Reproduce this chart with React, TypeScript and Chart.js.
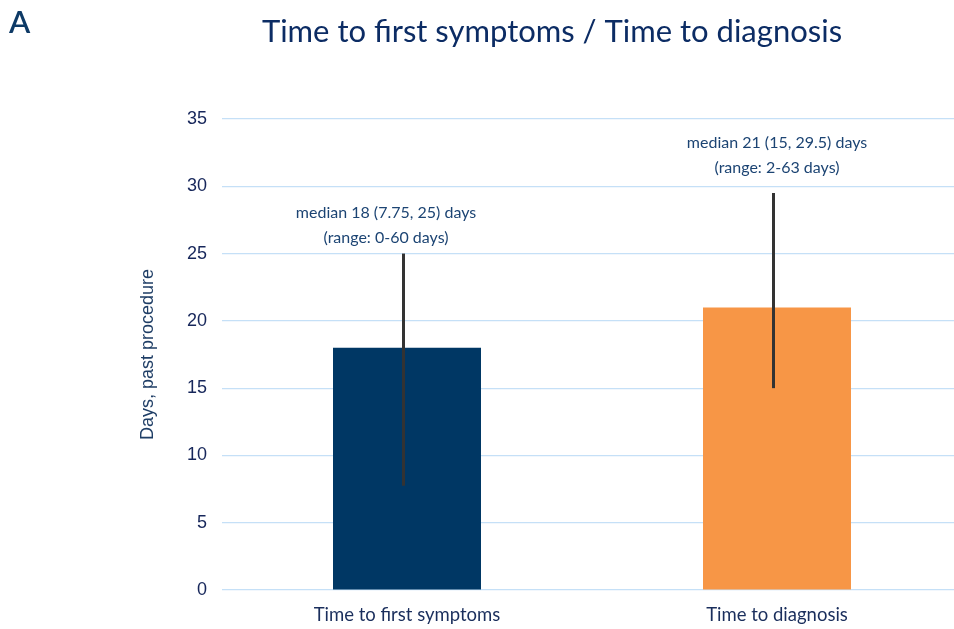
import { useEffect, useRef } from "react";
import { Chart, registerables } from "chart.js";

Chart.register(...registerables);

const categories = ["Time to first symptoms", "Time to diagnosis"];
const medianDays = [18, 21];
const lowerDays = [7.75, 15];
const upperDays = [25, 29.5];
const noteLine1 = ["median 18 (7.75, 25) days", "median 21 (15, 29.5) days"];
const noteLine2 = ["(range: 0-60 days)", "(range: 2-63 days)"];
const barColors = ["#003764", "#F79646"];
const chartTitle = "Time to first symptoms / Time to diagnosis";
const panelLetter = "A";
const yAxisTitle = "Days, past procedure";

// layout constants (positions of the hand-placed notes, in data units / px offsets)
const NOTE_Y = [26.15, 31.35];
const NOTE_DX = [-21, 0];
const WHISKER_DX = -3.5;

const CAL = "Lato, 'Open Sans', sans-serif";
const ARIAL = "'Liberation Sans', Arial, sans-serif";

const overlayPlugin = {
  id: "overlay",
  afterDatasetsDraw(chart: any) {
    const ctx = chart.ctx;
    const xs = chart.scales.x;
    const ys = chart.scales.y;
    ctx.save();
    categories.forEach((_, i) => {
      const x = xs.getPixelForValue(i) + WHISKER_DX;
      ctx.strokeStyle = "#333333";
      ctx.lineWidth = 3;
      ctx.beginPath();
      ctx.moveTo(x, ys.getPixelForValue(lowerDays[i]));
      ctx.lineTo(x, ys.getPixelForValue(upperDays[i]));
      ctx.stroke();

      const nx = xs.getPixelForValue(i) + NOTE_DX[i];
      const ny = ys.getPixelForValue(NOTE_Y[i]);
      ctx.fillStyle = "#1c4473";
      ctx.font = `16px ${CAL}`;
      ctx.textAlign = "center";
      ctx.textBaseline = "middle";
      ctx.fillText(noteLine1[i], nx, ny - 25);
      ctx.fillText(noteLine2[i], nx, ny);
    });
    ctx.restore();
  },
  afterDraw(chart: any) {
    const ctx = chart.ctx;
    ctx.save();
    ctx.fillStyle = "#0c2c64";
    ctx.font = `31px ${CAL}`;
    ctx.textAlign = "center";
    ctx.textBaseline = "middle";
    ctx.fillText(chartTitle, 552, 32);
    ctx.fillStyle = "#0e3a66";
    ctx.font = `600 31px ${CAL}`;
    ctx.textAlign = "left";
    ctx.fillText(panelLetter, 9, 23);
    ctx.restore();
  },
};

export default function App() {
  const ref = useRef<HTMLCanvasElement | null>(null);
  useEffect(() => {
    if (!ref.current) return;
    const chart = new Chart(ref.current, {
      type: "bar",
      data: {
        labels: categories,
        datasets: [
          {
            data: medianDays,
            backgroundColor: barColors,
            borderWidth: 0,
            barPercentage: 0.4,
            categoryPercentage: 1,
          },
        ],
      },
      options: {
        responsive: false,
        animation: false,
        layout: { padding: { top: 119, left: 0, right: 0, bottom: 0 } },
        plugins: {
          legend: { display: false },
          tooltip: { enabled: false },
          title: { display: false },
        },
        scales: {
          x: {
            grid: { display: false },
            border: { display: false },
            ticks: { font: { family: CAL, size: 18.5 }, color: "#1a2e5c", padding: 6 },
            afterFit: (s: any) => {
              s.height = 39;
            },
          },
          y: {
            min: 0,
            max: 35,
            ticks: {
              stepSize: 5,
              font: { family: ARIAL, size: 18 },
              color: "#16265a",
              padding: 15,
            },
            grid: { color: "#c5e0f7", lineWidth: 1.2, drawTicks: false },
            border: { display: false },
            title: {
              display: true,
              text: yAxisTitle,
              font: { family: ARIAL, size: 18 },
              color: "#1f3e66",
              padding: { top: 137, bottom: 0 },
            },
            afterFit: (s: any) => {
              s.width = 222;
            },
          },
        },
      },
      plugins: [overlayPlugin],
    } as any);
    return () => chart.destroy();
  }, []);
  return (
    <div
      style={{
        position: "absolute",
        left: 0,
        top: 0,
        width: 954,
        height: 629,
        overflow: "hidden",
        background: "#ffffff",
      }}
    >
      <canvas ref={ref} width={962} height={629} style={{ display: "block" }} />
    </div>
  );
}
